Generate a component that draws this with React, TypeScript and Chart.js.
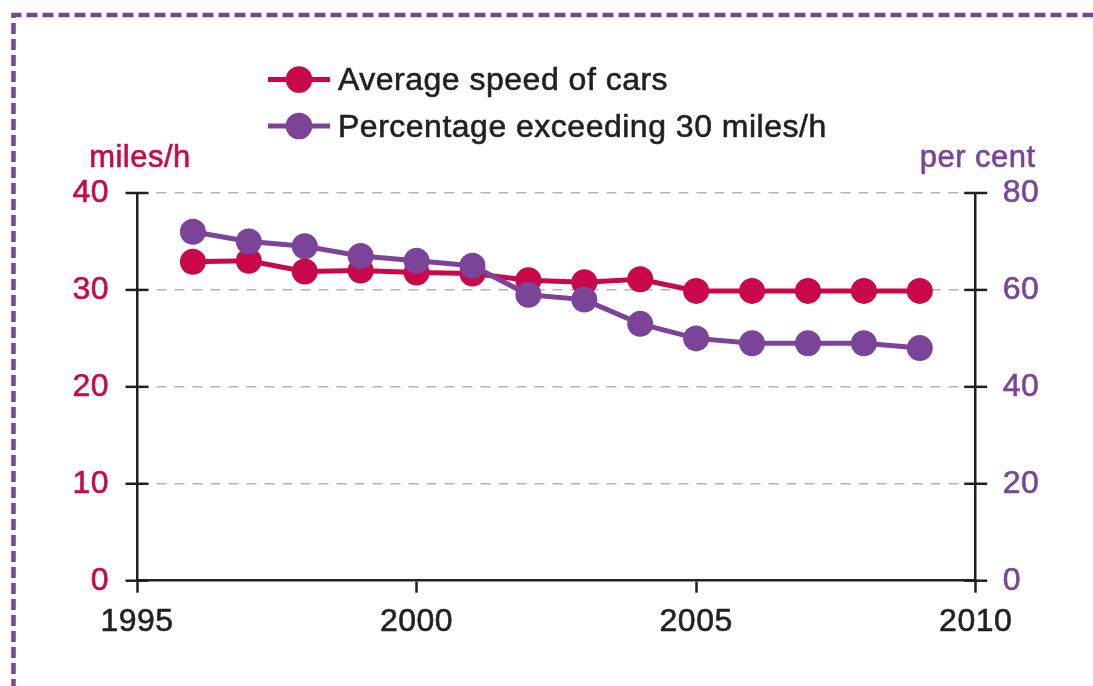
import React, { useEffect, useRef } from "react";
import { Chart, registerables } from "chart.js";

Chart.register(...registerables);

const years = [1996, 1997, 1998, 1999, 2000, 2001, 2002, 2003, 2004, 2005, 2006, 2007, 2008, 2009];
const avgSpeed = [32.9, 33.0, 31.9, 32.0, 31.8, 31.7, 31.0, 30.8, 31.1, 29.9, 29.9, 29.9, 29.9, 29.9];
const pctExceeding = [72, 70, 69, 67, 66, 65, 59, 58, 53, 50, 49, 49, 49, 48];
const seriesLabels = ["Average speed of cars", "Percentage exceeding 30 miles/h"];
const axisTitles = ["miles/h", "per cent"];
const xRange = [1995, 2010];
const speedRange = [0, 40];
const pctRange = [0, 80];

const RED = "#C8084B";
const PURPLE = "#7C4498";
const INK = "#231F20";
const FONT = "'Liberation Sans', Arial, Helvetica, sans-serif";

const decorPlugin = {
  id: "decor",
  beforeDraw(chart: any) {
    const ctx = chart.ctx;
    ctx.save();
    ctx.fillStyle = "#ffffff";
    ctx.fillRect(0, 0, chart.width, chart.height);
    ctx.strokeStyle = PURPLE;
    ctx.lineWidth = 4.5;
    ctx.setLineDash([11, 5]);
    ctx.beginPath();
    ctx.moveTo(13.5, chart.height + 20);
    ctx.lineTo(13.5, 15);
    ctx.lineTo(chart.width + 20, 15);
    ctx.stroke();
    ctx.restore();
    ctx.letterSpacing = "0.5px";
  },
  afterDraw(chart: any) {
    const ctx = chart.ctx;
    ctx.save();
    // crossing ticks on y axes
    ctx.strokeStyle = INK;
    ctx.lineWidth = 2.5;
    ctx.setLineDash([]);
    ["y", "y2"].forEach((id) => {
      const s = chart.scales[id];
      const ax = s.position === "left" ? s.right : s.left;
      s.ticks.forEach((t: any) => {
        const py = s.getPixelForValue(t.value);
        ctx.beginPath();
        ctx.moveTo(ax - 11.5, py);
        ctx.lineTo(ax + 11.5, py);
        ctx.stroke();
      });
    });
    // axis titles
    ctx.font = `31px ${FONT}`;
    ctx.textAlign = "center";
    ctx.textBaseline = "alphabetic";
    ctx.lineWidth = 0.6;
    ctx.fillStyle = RED;
    ctx.strokeStyle = RED;
    ctx.fillText(axisTitles[0], chart.scales.y.right + 3, 167);
    ctx.strokeText(axisTitles[0], chart.scales.y.right + 3, 167);
    ctx.fillStyle = PURPLE;
    ctx.strokeStyle = PURPLE;
    ctx.fillText(axisTitles[1], chart.scales.y2.left + 2, 167);
    ctx.strokeText(axisTitles[1], chart.scales.y2.left + 2, 167);
    // legend
    chart.data.datasets.forEach((ds: any, i: number) => {
      const cy = 79.5 + i * 46.5;
      ctx.strokeStyle = ds.borderColor;
      ctx.lineWidth = 5;
      ctx.beginPath();
      ctx.moveTo(268, cy);
      ctx.lineTo(330, cy);
      ctx.stroke();
      ctx.fillStyle = ds.pointBackgroundColor;
      ctx.beginPath();
      ctx.arc(299, cy, 13.3, 0, Math.PI * 2);
      ctx.fill();
      ctx.fillStyle = INK;
      ctx.strokeStyle = INK;
      ctx.lineWidth = 0.6;
      ctx.font = `32px ${FONT}`;
      ctx.textAlign = "left";
      ctx.textBaseline = "alphabetic";
      ctx.fillText(ds.label, 338, cy + 10.5);
      ctx.strokeText(ds.label, 338, cy + 10.5);
    });
    ctx.restore();
  },
};

export default function App() {
  const ref = useRef<HTMLCanvasElement | null>(null);
  useEffect(() => {
    if (!ref.current) return;
    const chart = new Chart(ref.current, {
      type: "line",
      data: {
        datasets: [
          {
            label: seriesLabels[0],
            data: years.map((y, i) => ({ x: y, y: avgSpeed[i] })),
            yAxisID: "y",
            borderColor: RED,
            backgroundColor: RED,
            pointBackgroundColor: RED,
            borderWidth: 5,
            pointRadius: 13,
            pointHoverRadius: 13,
            pointBorderWidth: 0,
            tension: 0,
            order: 2,
          },
          {
            label: seriesLabels[1],
            data: years.map((y, i) => ({ x: y, y: pctExceeding[i] })),
            yAxisID: "y2",
            borderColor: PURPLE,
            backgroundColor: PURPLE,
            pointBackgroundColor: PURPLE,
            borderWidth: 5,
            pointRadius: 13,
            pointHoverRadius: 13,
            pointBorderWidth: 0,
            tension: 0,
            order: 1,
          },
        ],
      },
      options: {
        responsive: false,
        animation: false,
        layout: { padding: { top: 193, left: 0, right: 0, bottom: 0 } },
        plugins: { legend: { display: false }, tooltip: { enabled: false } },
        scales: {
          x: {
            type: "linear",
            min: xRange[0],
            max: xRange[1],
            ticks: {
              stepSize: 5,
              color: INK,
              font: { family: FONT, size: 32 },
              padding: 10,
              textStrokeColor: INK,
              textStrokeWidth: 0.6,
              callback: (v: any) => String(v),
            },
            grid: {
              drawOnChartArea: false,
              drawTicks: true,
              tickLength: 12,
              tickColor: INK,
              tickWidth: 2.5,
            },
            border: { display: true, color: INK, width: 2.5 },
            afterFit: (s: any) => {
              s.height = 105.3;
            },
          },
          y: {
            type: "linear",
            position: "left",
            min: speedRange[0],
            max: speedRange[1],
            ticks: {
              stepSize: 10,
              color: RED,
              font: { family: FONT, size: 32 },
              padding: 28,
              textStrokeColor: RED,
              textStrokeWidth: 0.6,
            },
            grid: {
              drawTicks: false,
              lineWidth: 1.5,
              color: (c: any) => (c.tick && c.tick.value === 0 ? "rgba(0,0,0,0)" : "#B4B4B4"),
            },
            border: { display: true, color: INK, width: 2.5, dash: [10, 8] },
            afterFit: (s: any) => {
              s.width = 137;
            },
          },
          y2: {
            type: "linear",
            position: "right",
            min: pctRange[0],
            max: pctRange[1],
            ticks: {
              stepSize: 20,
              color: PURPLE,
              font: { family: FONT, size: 32 },
              padding: 27,
              textStrokeColor: PURPLE,
              textStrokeWidth: 0.6,
            },
            grid: { drawOnChartArea: false, drawTicks: false },
            border: { display: true, color: INK, width: 2.5 },
            afterFit: (s: any) => {
              s.width = 117.3;
            },
          },
        },
      },
      plugins: [decorPlugin],
    });
    return () => chart.destroy();
  }, []);
  return (
    <div style={{ position: "fixed", left: 0, top: 0, width: 1093, height: 686, background: "#fff" }}>
      <canvas ref={ref} width={1093} height={686} style={{ display: "block" }} />
    </div>
  );
}
